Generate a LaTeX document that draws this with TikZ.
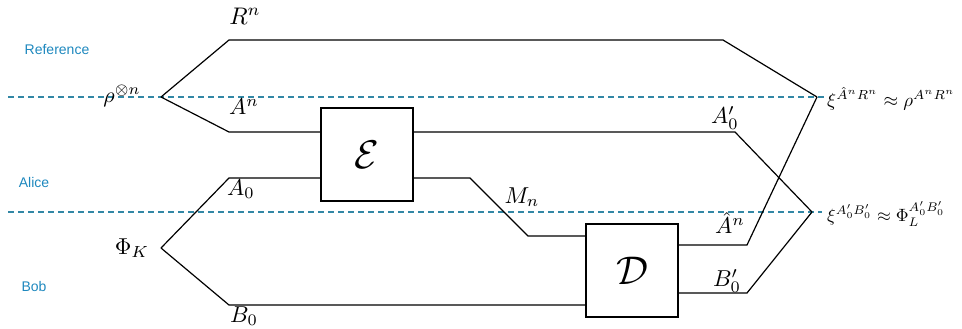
\documentclass[tikz,border=0pt]{standalone}
\usepackage{amsmath}
\usepackage{graphicx}
\usepackage{fontspec}
\newfontfamily\lblfont{Liberation Sans}
\definecolor{dashblue}{RGB}{50,135,165}
\definecolor{lblblue}{RGB}{30,136,190}
\newcommand{\mlab}[2][2.3]{\scalebox{#1}{$#2$}}
\begin{document}
\begin{tikzpicture}[x=1pt,y=-1pt,
  wire/.style={line width=1.2pt, black, line join=miter},
  sep/.style={dashed, dash pattern=on 6pt off 4pt, line width=1.1pt, dashblue},
  chan/.style={draw, line width=1.2pt, fill=white, minimum width=92pt, minimum height=93pt, inner sep=0pt},
  mlbl/.style={inner sep=0pt},
  party/.style={inner sep=0pt, text=lblblue, font=\lblfont\fontsize{14}{16}\selectfont}]
\useasboundingbox (0,0) rectangle (962,329);
% separators
\coordinate (s1a) at (8,97);   \coordinate (s1b) at (825,97);
\coordinate (s2a) at (8,212);  \coordinate (s2b) at (822,212);
\draw[sep] (s1a) -- (s1b);
\draw[sep] (s2a) -- (s2b);
% channel boxes
\node[chan] (E) at (367,154.5) {\mlab[4]{\mathcal{E}}};
\node[chan] (D) at (632,270.5) {\mlab[4]{\mathcal{D}}};
% coordinates
\coordinate (rho) at (161,97);
\coordinate (phik) at (161,248);
\coordinate (r1) at (229,40);
\coordinate (r2) at (723,40);
\coordinate (v1) at (817,97);
\coordinate (an) at (229,132);
\coordinate (a0c) at (229,178);
\coordinate (b0c) at (229,305);
\coordinate (a0p) at (735,132);
\coordinate (v2) at (812,212);
\coordinate (m1) at (470,178);
\coordinate (m2) at (528,236);
\coordinate (ah) at (747,245);
\coordinate (bp) at (747,293);
% wires
\draw[wire] (rho) -- (r1) -- (r2) -- (v1);
\draw[wire] (rho) -- (an) -- (E.west |- an);
\draw[wire] (E.east |- an) -- (a0p) -- (v2);
\draw[wire] (phik) -- (a0c) -- (E.west |- a0c);
\draw[wire] (E.east |- a0c) -- (m1) -- (m2) -- (D.west |- m2);
\draw[wire] (phik) -- (b0c) -- (D.west |- b0c);
\draw[wire] (D.east |- ah) -- (ah) -- (v1);
\draw[wire] (D.east |- bp) -- (bp) -- (v2);
% labels
\node[party] (lref) at (57,50) {Reference};
\node[party] (lal) at (34,182) {Alice};
\node[party] (lbob) at (34,286) {Bob};
\node[mlbl] (lR) at (245,16) {\mlab[2.4]{R^n}};
\node[mlbl] (lrho) at (122,96) {\mlab[2.2]{\rho^{\otimes n}}};
\node[mlbl] (lAn) at (244,107) {\mlab{A^n}};
\node[mlbl] (lA0) at (241,189) {\mlab{A_0}};
\node[mlbl] (lphi) at (132,248) {\mlab{\Phi_K}};
\node[mlbl] (lB0) at (244,316) {\mlab{B_0}};
\node[mlbl] (lMn) at (522,197) {\mlab{M_n}};
\node[mlbl] (lA0p) at (725,118) {\mlab{A_0'}};
\node[mlbl] (lAh) at (730,223) {\mlab{\hat{A}^n}};
\node[mlbl] (lB0p) at (727,281) {\mlab{B_0'}};
\node[mlbl, anchor=west] (lxi1) at (827,99) {\mlab[1.88]{\xi^{\hat{A}^nR^n}\approx\rho^{A^nR^n}}};
\node[mlbl, anchor=west] (lxi2) at (827,214) {\mlab[1.78]{\xi^{A_0'B_0'}\approx\Phi_L^{A_0'B_0'}}};
\end{tikzpicture}
\end{document}
